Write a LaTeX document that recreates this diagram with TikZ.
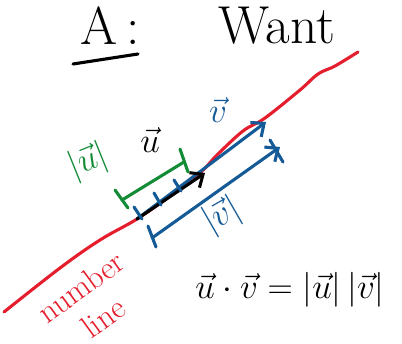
\documentclass[tikz,border=0pt]{standalone}
\usepackage{amsmath}
\usetikzlibrary{arrows.meta}
\definecolor{penred}{RGB}{228,30,45}
\definecolor{penblue}{RGB}{20,90,150}
\definecolor{pengreen}{RGB}{20,140,55}

\begin{document}
\begin{tikzpicture}[
    x=0.025cm, y=-0.025cm,
    pen/.style={line width=2.2pt, line cap=round, line join=round},
    vec/.style={pen, -{Straight Barb[length=2.6mm, width=4.5mm, line width=2.2pt]}},
    lbl/.style={inner sep=0pt}
  ]
    \useasboundingbox (0,0) rectangle (402,343);
    \clip (0,0) rectangle (402,343);

    % --- title ---
    \node[lbl, font=\fontsize{38}{38}\selectfont] (ttla) at (110,26) {A\,:};
    \node[lbl, font=\fontsize{38}{38}\selectfont] (ttlw) at (277,26) {Want};
    \draw[pen] (73,64) -- (138,54);

    % --- number line ---
    \draw[pen, penred] plot[smooth, tension=0.6] coordinates {
      (4,312) (60,268) (100,240) (137,219) (170,196) (200,173) (217,155)
      (243,131) (265,118) (300,90) (318,74) (335,66) (358,52)};
    \node[lbl, penred, rotate=36, align=center, font=\fontsize{23}{27}\selectfont]
      (numl) at (92,302) {number\\line};

    % --- vectors ---
    \coordinate (o)    at (137,219);
    \coordinate (uend) at (205,173);
    \coordinate (vend) at (266,122);
    \draw[vec, penblue] (o) -- (vend);
    \draw[vec] (o) -- (uend);
    \draw[pen, penblue] (134,207) -- (142,219);
    \draw[pen, penblue] (154,193) -- (161,205);
    \draw[pen, penblue] (174,180) -- (181,191);

    \node[lbl, font=\fontsize{36}{36}\selectfont] (ulbl) at (150,140) {$\vec{u}$};
    \node[lbl, penblue, font=\fontsize{36}{36}\selectfont] (vlbl) at (218,110) {$\vec{v}$};

    % --- |u| bracket ---
    \draw[pen, pengreen] (122,200) -- (184,162);
    \draw[pen, pengreen] (115,190) -- (128,208);
    \draw[pen, pengreen] (180,149) -- (188,172);
    \node[lbl, pengreen, rotate=22, font=\fontsize{26}{26}\selectfont] (unrm) at (88,162) {$|\vec{u}|$};

    % --- |v| bracket ---
    \draw[vec, penblue] (152,238) -- (280,147);
    \draw[pen, penblue] (148,226) -- (156,247);
    \draw[pen, penblue] (270,140) -- (283,162);
    \node[lbl, penblue, rotate=30, font=\fontsize{28}{28}\selectfont] (vnrm) at (222,216) {$|\vec{v}|$};

    % --- formula ---
    \node[lbl, font=\fontsize{34}{34}\selectfont] (dotp) at (290,290)
      {$\vec{u}\cdot\vec{v}=|\vec{u}|\,|\vec{v}|$};
\end{tikzpicture}
\end{document}
